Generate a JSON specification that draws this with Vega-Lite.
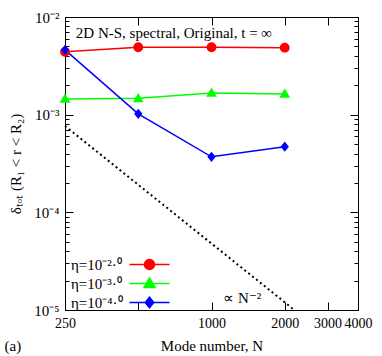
{
  "$schema": "https://vega.github.io/schema/vega-lite/v6.json",
  "width": 293,
  "height": 293,
  "autosize": "none",
  "padding": {"left": 65, "top": 17, "right": 24, "bottom": 46},
  "config": {
    "font": "Liberation Serif",
    "view": {"stroke": "black", "strokeWidth": 1},
    "axis": {
      "grid": false, "domain": false,
      "labelFont": "Liberation Serif", "titleFont": "Liberation Serif",
      "labelColor": "black", "titleColor": "black",
      "labelFontSize": 14, "titleFontSize": 15, "titleFontWeight": "normal",
      "tickColor": "black", "tickWidth": 1, "labelOverlap": false, "labelFlush": false
    },
    "legend": {
      "labelFont": "Liberation Serif", "labelFontSize": 15, "labelColor": "black"
    }
  },
  "datasets": {
    "series": [
      {"N": 250, "delta": 0.0044, "eta": "η=10⁻²·⁰"},
      {"N": 500, "delta": 0.0049, "eta": "η=10⁻²·⁰"},
      {"N": 1000, "delta": 0.0049, "eta": "η=10⁻²·⁰"},
      {"N": 2000, "delta": 0.00485, "eta": "η=10⁻²·⁰"},
      {"N": 250, "delta": 0.00145, "eta": "η=10⁻³·⁰"},
      {"N": 500, "delta": 0.00147, "eta": "η=10⁻³·⁰"},
      {"N": 1000, "delta": 0.00167, "eta": "η=10⁻³·⁰"},
      {"N": 2000, "delta": 0.00163, "eta": "η=10⁻³·⁰"},
      {"N": 250, "delta": 0.0046, "eta": "η=10⁻⁴·⁰"},
      {"N": 500, "delta": 0.00102, "eta": "η=10⁻⁴·⁰"},
      {"N": 1000, "delta": 0.00037, "eta": "η=10⁻⁴·⁰"},
      {"N": 2000, "delta": 0.00047, "eta": "η=10⁻⁴·⁰"}
    ],
    "slope": [
      {"N": 250, "delta": 0.000766},
      {"N": 2190, "delta": 0.00001}
    ]
  },
  "layer": [
    {
      "data": {"name": "series"},
      "mark": {"type": "line", "strokeWidth": 1.5},
      "encoding": {
        "x": {"field": "N", "type": "quantitative",
          "scale": {"type": "log", "domain": [250, 4000]},
          "axis": {"orient": "bottom", "title": "Mode number, N",
            "values": [250, 500, 1000, 2000, 3000, 4000], "format": "d",
            "labelExpr": "datum.value == 500 ? '' : datum.label",
            "tickSize": -8, "labelPadding": 14, "titlePadding": 8}},
        "y": {"field": "delta", "type": "quantitative",
          "scale": {"type": "log", "domain": [0.00001, 0.01]},
          "axis": {"orient": "left", "title": "δₜₒₜ (R₁ < r < R₂)",
            "values": [0.00001, 0.00002, 0.00003, 0.00004, 0.00005, 0.00006, 0.00007, 0.00008, 0.00009,
                       0.0001, 0.0002, 0.0003, 0.0004, 0.0005, 0.0006, 0.0007, 0.0008, 0.0009,
                       0.001, 0.002, 0.003, 0.004, 0.005, 0.006, 0.007, 0.008, 0.009, 0.01],
            "labelExpr": "datum.value == 0.01 ? '10⁻²' : datum.value == 0.001 ? '10⁻³' : datum.value == 0.0001 ? '10⁻⁴' : datum.value == 0.00001 ? '10⁻⁵' : ''",
            "labelFontSize": 15,
            "tickSize": {"condition": {"test": "datum.value == 0.01 || datum.value == 0.001 || datum.value == 0.0001 || datum.value == 0.00001", "value": -8}, "value": -4},
            "labelPadding": 14, "titlePadding": 10}},
        "color": {"field": "eta", "type": "nominal",
          "scale": {"domain": ["η=10⁻²·⁰", "η=10⁻³·⁰", "η=10⁻⁴·⁰"], "range": ["#ff0000", "#00ff00", "#0000ff"]}}
      }
    },
    {
      "data": {"name": "series"},
      "mark": {"type": "point", "filled": true, "opacity": 1, "size": 24},
      "encoding": {
        "x": {"field": "N", "type": "quantitative",
          "scale": {"type": "log", "domain": [250, 4000]},
          "axis": {"orient": "top", "title": null, "labels": false,
            "values": [250, 500, 1000, 2000, 3000, 4000], "tickSize": -8}},
        "y": {"field": "delta", "type": "quantitative",
          "scale": {"type": "log", "domain": [0.00001, 0.01]},
          "axis": {"orient": "right", "title": null, "labels": false,
            "values": [0.00001, 0.00002, 0.00003, 0.00004, 0.00005, 0.00006, 0.00007, 0.00008, 0.00009,
                       0.0001, 0.0002, 0.0003, 0.0004, 0.0005, 0.0006, 0.0007, 0.0008, 0.0009,
                       0.001, 0.002, 0.003, 0.004, 0.005, 0.006, 0.007, 0.008, 0.009, 0.01],
            "tickSize": {"condition": {"test": "datum.value == 0.01 || datum.value == 0.001 || datum.value == 0.0001 || datum.value == 0.00001", "value": -8}, "value": -4}}},
        "color": {"field": "eta", "type": "nominal",
          "scale": {"domain": ["η=10⁻²·⁰", "η=10⁻³·⁰", "η=10⁻⁴·⁰"], "range": ["#ff0000", "#00ff00", "#0000ff"]},
          "legend": {"title": null, "orient": "none", "legendX": -4, "legendY": 240, "padding": 0,
            "symbolSize": 25, "rowPadding": 2, "symbolOffset": 81, "labelOffset": -86,
            "encode": {"symbols": {"update": {"stroke": {"scale": "color", "field": "value"}, "strokeWidth": {"value": 1.5}}}}}},
        "shape": {"field": "eta", "type": "nominal",
          "scale": {"domain": ["η=10⁻²·⁰", "η=10⁻³·⁰", "η=10⁻⁴·⁰"],
            "range": [
              "M-8,0H8M2,0A2,2,0,1,1,-2,0A2,2,0,1,1,2,0Z",
              "M-8,0H8M0,-2.2L2.2,1.6L-2.2,1.6Z",
              "M-8,0H8M0,-2.1L1.7,0L0,2.1L-1.7,0Z"
            ]},
          "legend": {"title": null, "orient": "none", "legendX": -4, "legendY": 240, "padding": 0,
            "symbolSize": 25, "rowPadding": 2, "symbolOffset": 81, "labelOffset": -86,
            "encode": {"symbols": {"update": {"stroke": {"scale": "color", "field": "value"}, "strokeWidth": {"value": 1.5}}}}}}
      }
    },
    {
      "data": {"name": "slope"},
      "mark": {"type": "line", "color": "black", "strokeWidth": 2, "strokeDash": [2, 3]},
      "encoding": {
        "x": {"field": "N", "type": "quantitative", "scale": {"type": "log", "domain": [250, 4000]}, "axis": null},
        "y": {"field": "delta", "type": "quantitative", "scale": {"type": "log", "domain": [0.00001, 0.01]}, "axis": null}
      }
    },
    {
      "data": {"values": [{}]},
      "mark": {"type": "text", "text": "2D N-S, spectral, Original, t = ∞", "align": "left", "baseline": "middle", "fontSize": 15, "font": "Liberation Serif", "color": "black"},
      "encoding": {
        "x": {"datum": 277, "type": "quantitative", "scale": {"type": "log", "domain": [250, 4000]}, "axis": null},
        "y": {"datum": 0.00686, "type": "quantitative", "scale": {"type": "log", "domain": [0.00001, 0.01]}, "axis": null}
      }
    },
    {
      "data": {"values": [{}]},
      "mark": {"type": "text", "text": "∝ N⁻²", "align": "center", "baseline": "middle", "fontSize": 15, "font": "Liberation Serif", "color": "black"},
      "encoding": {
        "x": {"datum": 1337, "type": "quantitative", "scale": {"type": "log", "domain": [250, 4000]}, "axis": null},
        "y": {"datum": 0.0000133, "type": "quantitative", "scale": {"type": "log", "domain": [0.00001, 0.01]}, "axis": null}
      }
    },
    {
      "data": {"values": [{}]},
      "mark": {"type": "text", "text": "(a)", "align": "left", "baseline": "middle", "fontSize": 15, "font": "Liberation Serif", "color": "black", "clip": false},
      "encoding": {
        "x": {"datum": 141, "type": "quantitative", "scale": {"type": "log", "domain": [250, 4000]}, "axis": null},
        "y": {"datum": 0.00000428, "type": "quantitative", "scale": {"type": "log", "domain": [0.00001, 0.01]}, "axis": null}
      }
    }
  ],
  "resolve": {
    "axis": {"x": "independent", "y": "independent"}
  }
}
